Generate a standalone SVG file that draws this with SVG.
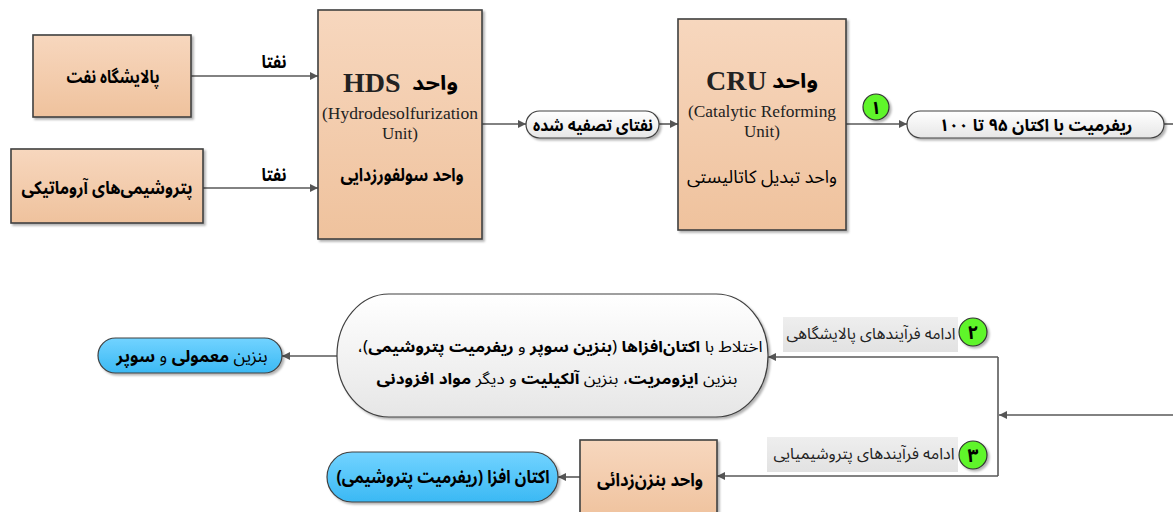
<svg xmlns="http://www.w3.org/2000/svg" width="1173" height="512" viewBox="0 0 1173 512">
<defs>
  <linearGradient id="peach" x1="0" y1="0" x2="0" y2="1">
    <stop offset="0" stop-color="#f7d7be"/>
    <stop offset="1" stop-color="#efc29d"/>
  </linearGradient>
  <linearGradient id="pill" x1="0" y1="0" x2="0" y2="1">
    <stop offset="0" stop-color="#ffffff"/>
    <stop offset="1" stop-color="#e6e6e6"/>
  </linearGradient>
  <linearGradient id="blue" x1="0" y1="0" x2="0" y2="1">
    <stop offset="0" stop-color="#72d3ff"/>
    <stop offset="1" stop-color="#3bb9f4"/>
  </linearGradient>
  <linearGradient id="lbl" x1="0" y1="0" x2="0" y2="1">
    <stop offset="0" stop-color="#eeeeee"/>
    <stop offset="1" stop-color="#e2e2e2"/>
  </linearGradient>
  <filter id="sh" x="-10%" y="-10%" width="130%" height="130%">
    <feDropShadow dx="2" dy="2" stdDeviation="1.2" flood-color="#000" flood-opacity="0.3"/>
  </filter>
  <marker id="arr" viewBox="0 0 10 10" refX="10" refY="5" markerWidth="9" markerHeight="8" orient="auto" markerUnits="userSpaceOnUse">
    <path d="M0,0 L10,5 L0,10 z" fill="#555"/>
  </marker>
  <style>
    .box{fill:url(#peach);stroke:#404040;stroke-width:1.6;filter:url(#sh)}
    .pill{fill:url(#pill);stroke:#404040;stroke-width:1.2;filter:url(#sh)}
    .blue{fill:url(#blue);stroke:#404040;stroke-width:1.2;filter:url(#sh)}
    .lbl{fill:url(#lbl)}
    .num{fill:#5ff52c;stroke:#333;stroke-width:1.2;filter:url(#sh)}
    .ln{fill:none;stroke:#595959;stroke-width:1.6}
    .arw{marker-end:url(#arr)}
    .fa{font-family:"Noto Sans Arabic","Noto Naskh Arabic","DejaVu Sans",sans-serif;fill:#000;direction:rtl}
    .b{font-weight:bold}
    .en{font-family:"Liberation Serif",serif;fill:#222}
  </style>
</defs>

<g id="connectors">
  <line class="ln arw" x1="191" y1="76" x2="318" y2="76"/>
  <line class="ln arw" x1="203" y1="188" x2="318" y2="188"/>
  <line class="ln arw" x1="482" y1="124" x2="526" y2="124"/>
  <line class="ln arw" x1="659" y1="124" x2="678" y2="124"/>
  <line class="ln arw" x1="846" y1="124" x2="907" y2="124"/>
  <line class="ln" x1="1164" y1="124" x2="1173" y2="124"/>
  <line class="ln arw" x1="1173" y1="415" x2="999" y2="415"/>
  <path class="ln" d="M998,357 L998,476"/>
  <line class="ln arw" x1="998" y1="357" x2="768" y2="357"/>
  <line class="ln arw" x1="998" y1="476" x2="717" y2="476"/>
  <line class="ln arw" x1="580" y1="477" x2="558" y2="477"/>
  <line class="ln arw" x1="337" y1="356" x2="282" y2="356"/>
  <text class="fa b" x="274" y="68" font-size="18" text-anchor="middle" textLength="25" lengthAdjust="spacingAndGlyphs">نفتا</text>
  <text class="fa b" x="274" y="181" font-size="18" text-anchor="middle" textLength="25" lengthAdjust="spacingAndGlyphs">نفتا</text>
</g>

<g id="refinery">
  <rect class="box" x="33" y="35" width="158" height="82"/>
  <text class="fa b" x="113" y="83" font-size="18" text-anchor="middle" textLength="93" lengthAdjust="spacingAndGlyphs">پالایشگاه نفت</text>
</g>

<g id="aromatics">
  <rect class="box" x="11" y="149" width="192" height="74"/>
  <text class="fa b" x="107" y="194" font-size="18" text-anchor="middle" textLength="171" lengthAdjust="spacingAndGlyphs">پتروشیمی‌های آروماتیکی</text>
</g>

<g id="hds">
  <rect class="box" x="318" y="10" width="164" height="229"/>
  <text class="en b" x="343" y="92" font-size="28">HDS</text>
  <text class="fa b" x="435" y="90" font-size="20" text-anchor="middle" textLength="46" lengthAdjust="spacingAndGlyphs">واحد</text>
  <text class="en" x="400" y="119" font-size="17" text-anchor="middle" textLength="156" lengthAdjust="spacingAndGlyphs">(Hydrodesolfurization</text>
  <text class="en" x="400" y="139" font-size="17" text-anchor="middle">Unit)</text>
  <text class="fa b" x="402" y="181" font-size="18" text-anchor="middle" textLength="123" lengthAdjust="spacingAndGlyphs">واحد سولفورزدایی</text>
</g>

<g id="treated-naphtha">
  <rect class="pill" x="526" y="111" width="133" height="27" rx="13.5"/>
  <text class="fa b" x="593" y="131" font-size="17" text-anchor="middle" textLength="120" lengthAdjust="spacingAndGlyphs">نفتای تصفیه شده</text>
</g>

<g id="cru">
  <rect class="box" x="678" y="19" width="168" height="211"/>
  <text class="en b" x="706" y="90" font-size="28">CRU</text>
  <text class="fa b" x="795" y="88" font-size="20" text-anchor="middle" textLength="46" lengthAdjust="spacingAndGlyphs">واحد</text>
  <text class="en" x="762" y="117" font-size="17" text-anchor="middle" textLength="148" lengthAdjust="spacingAndGlyphs">(Catalytic Reforming</text>
  <text class="en" x="762" y="137" font-size="17" text-anchor="middle">Unit)</text>
  <text class="fa" x="762" y="183" font-size="18" text-anchor="middle" textLength="150" lengthAdjust="spacingAndGlyphs">واحد تبدیل کاتالیستی</text>
</g>

<g id="badge1">
  <circle class="num" cx="876" cy="107" r="13"/>
  <text class="fa b" x="876" y="114" font-size="18" text-anchor="middle">۱</text>
</g>

<g id="reformate">
  <rect class="pill" x="907" y="111" width="257" height="27" rx="13.5"/>
  <text class="fa b" x="1036" y="131" font-size="17" text-anchor="middle" textLength="193" lengthAdjust="spacingAndGlyphs">ریفرمیت با اکتان ۹۵ تا ۱۰۰</text>
</g>

<g id="blending">
  <rect class="pill" x="337" y="294" width="431" height="123" rx="52" ry="61"/>
  <text class="fa" x="560" y="352" font-size="15.5" text-anchor="middle" textLength="405" lengthAdjust="spacingAndGlyphs">اختلاط با <tspan class="b">اکتان‌افزاها</tspan> (<tspan class="b">بنزین سوپر</tspan> و <tspan class="b">ریفرمیت پتروشیمی</tspan>)،</text>
  <text class="fa" x="557" y="384" font-size="15.5" text-anchor="middle" textLength="361" lengthAdjust="spacingAndGlyphs">بنزین <tspan class="b">ایزومریت</tspan>، بنزین <tspan class="b">آلکیلیت</tspan> و دیگر <tspan class="b">مواد افزودنی</tspan></text>
</g>

<g id="gasoline">
  <rect class="blue" x="98" y="338" width="184" height="35" rx="17.5"/>
  <text class="fa" x="192" y="362" font-size="17" text-anchor="middle">بنزین <tspan class="b">معمولی</tspan> و <tspan class="b">سوپر</tspan></text>
</g>

<g id="refinery-process">
  <rect class="lbl" x="783" y="317" width="175" height="35"/>
  <text class="fa" x="871" y="339" font-size="16" text-anchor="middle" textLength="169" lengthAdjust="spacingAndGlyphs" style="fill:#222">ادامه فرآیندهای پالایشگاهی</text>
  <circle class="num" cx="973" cy="332" r="14"/>
  <text class="fa b" x="973" y="339" font-size="19" text-anchor="middle">۲</text>
</g>

<g id="petrochem-process">
  <rect class="lbl" x="767" y="437" width="191" height="35"/>
  <text class="fa" x="864" y="459" font-size="16" text-anchor="middle" textLength="181" lengthAdjust="spacingAndGlyphs" style="fill:#222">ادامه فرآیندهای پتروشیمیایی</text>
  <circle class="num" cx="973" cy="455" r="14"/>
  <text class="fa b" x="973" y="462" font-size="19" text-anchor="middle">۳</text>
</g>

<g id="debenzene">
  <rect class="box" x="580" y="440" width="137" height="80"/>
  <text class="fa b" x="650" y="486" font-size="18" text-anchor="middle" textLength="106" lengthAdjust="spacingAndGlyphs">واحد بنزن‌زدائی</text>
</g>

<g id="octane-booster">
  <rect class="blue" x="327" y="452" width="231" height="50" rx="25"/>
  <text class="fa b" x="443" y="483" font-size="18" text-anchor="middle" textLength="213" lengthAdjust="spacingAndGlyphs">اکتان افزا (ریفرمیت پتروشیمی)</text>
</g>
</svg>
